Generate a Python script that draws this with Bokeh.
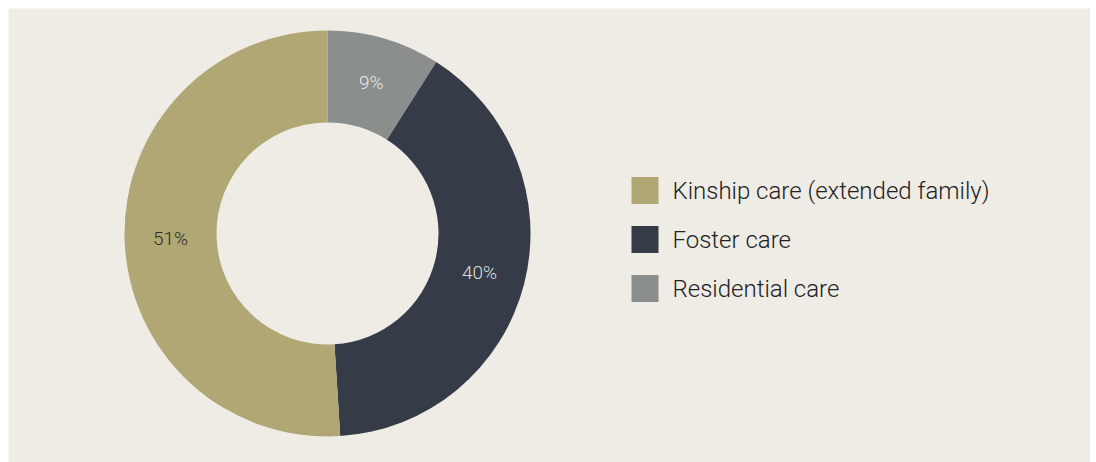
import numpy as np
from bokeh.plotting import figure
from bokeh.models import Range1d, ColumnDataSource
from bokeh.core.properties import value
from bokeh.embed import file_html
from bokeh.resources import INLINE

# Data
categories = ["Kinship care (extended family)", "Foster care", "Residential care"]
values = [51, 40, 9]
labels = ["51%", "40%", "9%"]
colors = ["#B1A774", "#353C48", "#8A8F8E"]
label_colors = ["#2b2b2b", "#dcdcdc", "#e6e6e6"]

W, H = 1082, 454
M = 8
BG = "#EFECE5"
FONT = "'Roboto Light', Roboto, sans-serif"

p = figure(width=W + M, height=H + M, x_range=Range1d(0, W), y_range=Range1d(0, H),
           output_backend="svg", toolbar_location=None,
           min_border_left=M, min_border_top=M, min_border_right=0, min_border_bottom=0,
           background_fill_color=BG, border_fill_color="white", outline_line_color=None)
p.axis.visible = False
p.grid.visible = False

cx, cy = 319, 229
r_in, r_out = 111, 203

# Clockwise from 12 o'clock: Residential, Foster, Kinship
order = [2, 1, 0]
total = float(sum(values))
cum = 0.0
starts, ends, mids, cols, cats = [], [], [], [], []
for i in order:
    f0 = cum / total
    cum += values[i]
    f1 = cum / total
    starts.append(np.pi / 2 - f1 * 2 * np.pi)
    ends.append(np.pi / 2 - f0 * 2 * np.pi)
    mids.append(np.pi / 2 - (f0 + f1) / 2 * 2 * np.pi)
    cols.append(colors[i])
    cats.append(categories[i])

src = ColumnDataSource(dict(start=starts, end=ends, color=cols, cat=cats))
p.annular_wedge(x=cx, y=cy, inner_radius=r_in, outer_radius=r_out,
                start_angle="start", end_angle="end", fill_color="color",
                line_color=None, source=src)

r_lab = (r_in + r_out) / 2
lx = [cx + r_lab * np.cos(a) for a in mids]
ly = [cy + r_lab * np.sin(a) for a in mids]
p.text(x=lx, y=ly, text=[labels[i] for i in order],
       text_color=[label_colors[i] for i in order],
       text_font=value(FONT), text_font_size="19px",
       text_align="center", text_baseline="middle")

# Legend
lg_x, lg_y0, lg_dy, sq = 636.5, 272, 49, 27
for k, cat in enumerate(categories):
    yy = lg_y0 - k * lg_dy
    p.rect(x=[lg_x], y=[yy], width=sq, height=sq, fill_color=colors[k], line_color=None)
    p.text(x=[lg_x + 27.5], y=[yy], text=[cat], text_color="#222222",
           text_font=value(FONT), text_font_size="24px",
           text_align="left", text_baseline="middle")

open("out.html", "w").write(file_html(p, INLINE))
